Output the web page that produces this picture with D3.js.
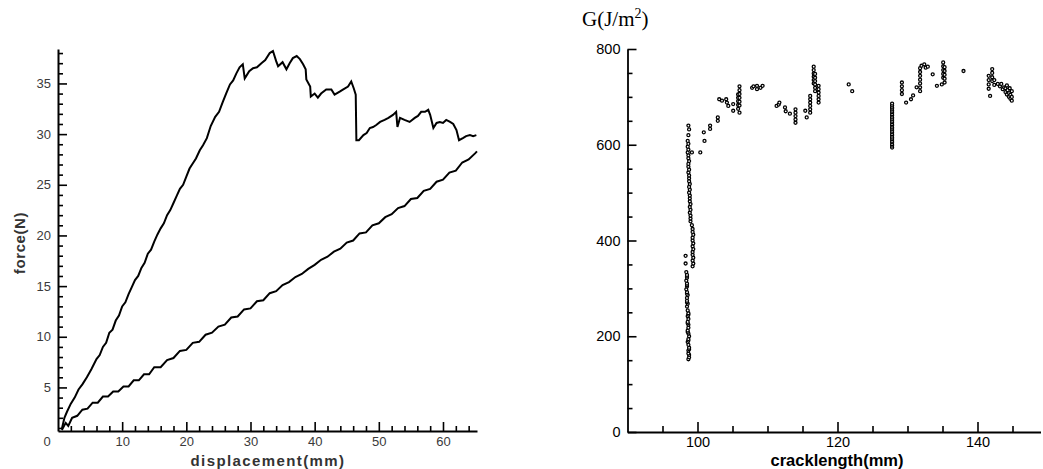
<!DOCTYPE html>
<html>
<head>
<meta charset="utf-8">
<script src="https://cdn.jsdelivr.net/npm/d3@7"></script>
<style>
  body { margin: 0; background: #fff; }
  .axis path, .axis line { stroke: #000; }
</style>
</head>
<body>
<svg id="chart" width="1043" height="469"></svg>
<script>
// left plot: force vs displacement, two load curves
var loadingDisp = [0.6,1.0,1.4,2.0,2.6,3.2,3.8,4.5,5.2,6,6.5,7,7.5,8,8.5,9,9.5,10,10.5,11,11.5,12,12.5,13,13.5,14,14.5,15,15.5,16,16.5,17,17.5,18,18.5,19,19.5,20,20.5,21,21.5,22.1,22.6,23.2,23.8,24.5,25.1,25.7,26.2,26.8,27.3,27.8,28.3,28.8,29.1,29.3,29.8,30.4,31.0,31.7,32.3,33.0,33.5,34.0,34.3,35.0,35.6,36.1,36.6,37.2,37.7,38.2,38.6,38.7,39.3,39.4,40.0,40.5,41.0,41.8,42.6,43.1,43.9,44.4,45.2,45.7,46.1,46.4,46.5,46.9,47.6,48.1,48.6,49.1,49.6,50.2,50.9,51.5,52.2,52.7,52.9,53.3,54.0,54.8,55.6,56.1,56.6,57.2,57.7,58.0,58.5,59.0,59.5,60.0,60.5,61.1,61.6,62.1,62.5,63.1,63.6,64.2,64.7,65.2];
var loadingForce = [0.9,2.0,2.6,3.4,4.0,4.8,5.3,6.0,6.8,7.8,8.2,9.0,9.4,10.4,10.7,11.6,12.1,13.0,13.4,14.2,14.9,15.6,16.0,16.8,17.3,18.2,18.6,19.4,20.1,20.7,21.2,22.0,22.5,23.2,23.9,24.6,25.0,25.8,26.6,27.1,27.6,28.4,28.9,29.6,30.8,31.7,32.2,33.2,34.0,34.9,35.3,36.0,36.6,36.9,35.5,35.7,36.2,36.5,36.6,37.0,37.3,38.0,38.2,37.2,36.7,37.1,36.4,37.0,37.5,37.7,37.4,36.9,36.4,35.4,34.7,33.7,34.0,33.6,34.0,34.4,34.4,33.9,34.2,34.4,34.7,35.2,34.5,33.9,29.4,29.4,29.9,30.1,30.6,30.7,30.9,31.2,31.4,31.6,31.9,32.2,30.7,31.6,31.4,31.2,31.6,31.8,32.2,32.2,32.4,31.9,30.6,31.1,31.2,31.1,31.4,31.2,31.0,30.4,29.4,29.6,29.8,29.9,29.8,29.9];

var unloadDisp = [0.6,1.2,1.6,2.2,3,3.8,4.6,5.4,6.2,7,7.8,8.6,9.4,10.2,11,11.8,12.6,13.4,14.2,15,16,17,18,19,20,21,22,23,24,25,26,27,28,29,30,31,32,33,34,35,36,37,38,39,40,41,42,43,44,45,46,47,48,49,50,51,52,53,54,55,56,57,58,59,60,61,62,63,64,65,65.3];
var unloadForce = [0.8,1.5,1.2,2.0,2.2,2.8,2.9,3.5,3.5,4.1,4.1,4.6,4.6,5.1,5.1,5.7,5.7,6.3,6.3,7.0,7.0,7.7,7.9,8.6,8.7,9.4,9.5,10.2,10.4,11.0,11.2,11.9,12.0,12.7,12.8,13.5,13.6,14.3,14.5,15.1,15.4,15.9,16.2,16.7,17.1,17.6,17.9,18.4,18.7,19.3,19.5,20.2,20.3,21.0,21.2,21.8,22.1,22.7,22.9,23.6,23.7,24.4,24.6,25.3,25.5,26.2,26.4,27.2,27.5,28.1,28.3];

var dispTicks = [10,20,30,40,50,60];
var dispMinor = [2,4,6,8,12,14,16,18,22,24,26,28,32,34,36,38,42,44,46,48,52,54,56,58,62,64];
var forceTicks = [5,10,15,20,25,30,35];
var forceMinor = [1,2,3,4,6,7,8,9,11,12,13,14,16,17,18,19,21,22,23,24,26,27,28,29,31,32,33,34,36,37,38];

// right plot: energy release rate G vs crack length
var gPoints = [
 [98.7,152],[98.8,156],[98.8,161],[98.7,164],[98.7,170],[98.8,173],[98.8,176],[98.7,182],[98.6,188],[98.7,191],[98.7,194],[98.8,200],[98.7,206],[98.6,209],[98.6,212],[98.7,218],[98.7,224],[98.6,227],[98.6,230],[98.7,236],[98.6,242],[98.7,245],[98.7,248],[98.6,254],
 [98.5,262],[98.6,268],[98.5,271],[98.5,274],[98.5,280],[98.6,286],[98.5,289],[98.5,292],[98.4,298],[98.5,304],[98.5,307],[98.5,310],[98.4,316],[98.5,322],[98.5,325],[98.5,328],[98.4,334],
 [98.3,352],[98.3,368],
 [99.3,346],[99.4,352],[99.3,358],[99.4,364],[99.3,370],[99.3,376],[99.4,382],[99.3,388],[99.4,394],[99.3,400],[99.3,406],[99.4,412],[99.3,418],[99.3,424],
 [99.2,432],[99.0,440],[99.0,446],[99.0,452],[98.9,458],[99.0,464],[98.9,470],[99.0,476],[98.9,482],[98.9,488],[98.9,494],[98.8,500],[98.9,506],[98.8,512],[98.9,518],[98.8,524],[98.8,530],[98.8,536],[98.7,542],[98.8,548],[98.7,554],[98.7,560],[98.8,566],[98.7,572],[98.7,578],[98.6,584],[98.7,590],[98.6,596],[98.7,602],[98.6,608],[98.7,620],[98.8,632],[98.7,640],
 [99.2,584],[100.4,584],[101.0,608],[100.9,626],[101.8,633],[101.8,640],
 [102.9,650],[102.9,657],[103.1,695],[103.5,692],[104.1,695],[104.2,688],[104.4,681],[105.1,671],[105.1,685],
 [105.8,675],[105.8,683],[105.8,691],[105.8,698],[105.8,705],[106.0,682],[106.0,690],[106.0,698],[106.0,706],[106.0,714],[106.0,722],[106.0,667],
 [107.8,719],[108.0,722],[108.5,716],[108.5,723],[109.0,719],[109.3,723],
 [111.3,681],[111.6,684],[111.7,688],[112.5,678],[112.6,670],[113.2,665],
 [114.0,646],[114.0,653],[114.0,660],[114.0,667],[114.0,674],
 [115.4,671],[115.6,657],[116.1,667],[116.1,674],[116.1,681],[116.1,688],[116.1,695],[116.1,702],
 [116.6,728],[116.6,735],[116.6,742],[116.6,749],[116.6,756],[116.6,763],[116.8,712],[116.8,719],[116.8,726],[116.8,733],[116.8,740],[116.8,748],
 [117.3,688],[117.3,695],[117.3,702],[117.3,709],[117.3,716],[117.3,723],
 [121.6,726],[122.1,712],
 [127.8,594],[127.8,598],[127.8,601],[127.8,605],[127.8,608],[127.8,612],[127.8,615],[127.8,619],[127.8,622],[127.8,626],[127.8,629],[127.8,633],[127.8,636],[127.8,640],[127.8,643],[127.8,647],[127.8,650],[127.8,654],[127.8,657],[127.8,661],[127.8,664],[127.8,668],[127.8,671],[127.8,675],[127.8,678],[127.8,682],[127.8,686],
 [129.2,706],[129.2,714],[129.2,722],[129.2,730],[129.8,688],[130.5,695],[130.8,703],[131.3,720],
 [131.8,712],[131.8,720],[131.8,728],[131.8,736],[131.8,744],[131.8,752],[131.8,760],[132.0,765],[132.4,768],[132.6,761],[132.9,763],[133.6,747],[134.2,723],[134.9,726],
 [135.1,740],[135.1,748],[135.1,756],[135.1,764],[135.1,772],[135.3,730],[135.3,738],[135.3,746],[135.3,754],[135.3,762],
 [138.0,754],
 [141.6,717],[141.6,726],[141.6,735],[141.6,744],[141.8,702],[142.1,733],[142.1,741],[142.1,750],[142.1,758],[142.4,725],[142.4,735],[142.9,727],
 [143.2,722],[143.4,727],[143.6,716],[143.8,720],[144.0,710],[144.0,718],[144.2,705],[144.3,714],[144.5,700],[144.5,708],[144.7,696],[144.7,704],[144.9,692],[144.9,700],[144.9,712],[144.6,718],[144.2,724]
];

var crackTicks = [100,120,140];
var crackMinor = [95,105,110,115,125,130,135,145];
var gTicks = [0,200,400,600,800];
var gMinor = [50,100,150,250,300,350,450,500,550,650,700,750];

var svg = d3.select("#chart");

// ---------- left plot ----------
var xL = d3.scaleLinear().domain([0, 65.3]).range([58, 477]);
var yL = d3.scaleLinear().domain([0.7, 38.4]).range([431, 49]);
var labFont = "Arial, 'Liberation Sans', sans-serif";

svg.append("g").attr("class", "axis")
	.attr("transform", "translate(0,431)")
	.call(d3.axisBottom(xL).tickValues(dispMinor).tickSize(-5).tickSizeOuter(0).tickFormat(""))
	.call(g => g.select(".domain").remove());
var axL_x = svg.append("g").attr("class", "axis")
	.attr("transform", "translate(0,431)")
	.call(d3.axisBottom(xL).tickValues(dispTicks).tickSize(-9).tickSizeOuter(0).tickPadding(6));

svg.append("g").attr("class", "axis")
	.attr("transform", "translate(58,0)")
	.call(d3.axisLeft(yL).tickValues(forceMinor).tickSize(-5).tickSizeOuter(0).tickFormat(""))
	.call(g => g.select(".domain").remove());
var axL_y = svg.append("g").attr("class", "axis")
	.attr("transform", "translate(58,0)")
	.call(d3.axisLeft(yL).tickValues(forceTicks).tickSize(-9).tickSizeOuter(0).tickPadding(7));

[axL_x, axL_y].forEach(function(a){
	a.select(".domain").attr("stroke-width", 2);
	a.selectAll("text").attr("font-family", labFont).attr("font-size", 13).attr("fill", "#3a3a3a");
});

// corner zero label
svg.append("text")
	.attr("x", xL(0) - 11).attr("y", 446)
	.attr("text-anchor", "middle")
	.attr("font-family", labFont).attr("font-size", 13).attr("fill", "#3a3a3a")
	.text("0");

svg.append("text")
	.attr("x", 268).attr("y", 466)
	.attr("text-anchor", "middle")
	.attr("font-family", labFont).attr("font-size", 15).attr("font-weight", "bold")
	.attr("letter-spacing", 1.4).attr("fill", "#333")
	.text("displacement(mm)");

svg.append("text")
	.attr("transform", "translate(25,243) rotate(-90)")
	.attr("text-anchor", "middle")
	.attr("font-family", labFont).attr("font-size", 15).attr("font-weight", "bold")
	.attr("letter-spacing", 0.6).attr("fill", "#333")
	.text("force(N)");

var lineL = d3.line().x(d => xL(d[0])).y(d => yL(d[1]));
var loadData = loadingDisp.map((d, i) => [d, loadingForce[i]]);
var unloadData = unloadDisp.map((d, i) => [d, unloadForce[i]]);

svg.append("path").datum(loadData)
	.attr("d", lineL).attr("fill", "none").attr("stroke", "#000")
	.attr("stroke-width", 2);
svg.append("path").datum(unloadData)
	.attr("d", lineL).attr("fill", "none").attr("stroke", "#000")
	.attr("stroke-width", 2);

// ---------- right plot ----------
var xR = d3.scaleLinear().domain([90, 149]).range([627.5, 1040.5]);
var yR = d3.scaleLinear().domain([0, 800]).range([432, 49]);

svg.append("g").attr("class", "axis")
	.attr("transform", "translate(0,432)")
	.call(d3.axisBottom(xR).tickValues(crackMinor).tickSize(-6).tickSizeOuter(0).tickFormat(""))
	.call(g => g.select(".domain").remove());
var axR_x = svg.append("g").attr("class", "axis")
	.attr("transform", "translate(0,432)")
	.call(d3.axisBottom(xR).tickValues(crackTicks).tickSize(-10).tickSizeOuter(0).tickPadding(5));

svg.append("g").attr("class", "axis")
	.attr("transform", "translate(627.5,0)")
	.call(d3.axisLeft(yR).tickValues(gMinor).tickSize(-5).tickSizeOuter(0).tickFormat(""))
	.call(g => g.select(".domain").remove());
var axR_y = svg.append("g").attr("class", "axis")
	.attr("transform", "translate(627.5,0)")
	.call(d3.axisLeft(yR).tickValues(gTicks).tickSize(-9).tickSizeOuter(0).tickPadding(7));

[axR_x, axR_y].forEach(function(a){
	a.select(".domain").attr("stroke-width", 1.8);
	a.selectAll("text").attr("font-family", labFont).attr("font-size", 14.5).attr("fill", "#000");
});
svg.selectAll(".axis line").attr("stroke-width", 1.6);

svg.append("text")
	.attr("x", 837).attr("y", 466)
	.attr("text-anchor", "middle")
	.attr("font-family", labFont).attr("font-size", 16.5).attr("font-weight", "bold")
	.attr("fill", "#000")
	.text("cracklength(mm)");

var gLabel = svg.append("text")
	.attr("x", 582).attr("y", 26)
	.attr("font-family", "'Liberation Serif', 'Times New Roman', serif").attr("font-size", 21)
	.attr("fill", "#000");
gLabel.append("tspan").text("G(J/m");
gLabel.append("tspan").attr("dy", -8).attr("font-size", 14).text("2");
gLabel.append("tspan").attr("dy", 8).text(")");

svg.append("g").selectAll("circle")
	.data(gPoints)
	.enter()
	.append("circle")
	.attr("cx", d => xR(d[0]))
	.attr("cy", d => yR(d[1]))
	.attr("r", 1.5)
	.attr("fill", "#fff")
	.attr("stroke", "#000")
	.attr("stroke-width", 1.3);
</script>
</body>
</html>
